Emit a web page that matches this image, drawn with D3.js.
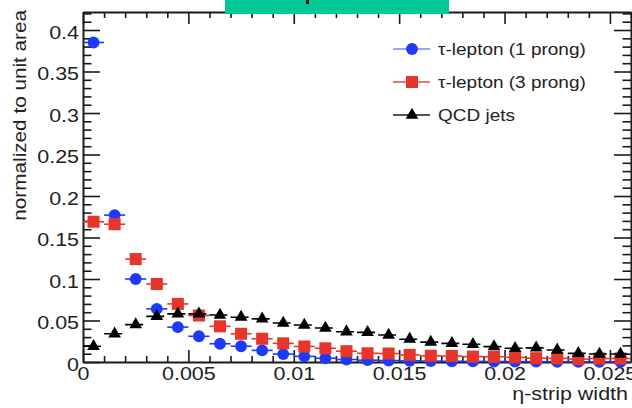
<!DOCTYPE html>
<html><head><meta charset="utf-8">
<script src="https://cdn.jsdelivr.net/npm/d3@7"></script>
<style>
body{margin:0;background:#fff}
svg{display:block}
text{font-family:"Liberation Sans",Arial,Helvetica,sans-serif;fill:#222}
</style>
</head><body>
<svg id="c" width="632" height="408"></svg>
<script>
// ---- data ----
const binCenters = [0.0005,0.0015,0.0025,0.0035,0.0045,0.0055,0.0065,0.0075,0.0085,0.0095,
                    0.0105,0.0115,0.0125,0.0135,0.0145,0.0155,0.0165,0.0175,0.0185,0.0195,
                    0.0205,0.0215,0.0225,0.0235,0.0245,0.0255];
const binHalfWidth = 0.0005;
const tau1prong = [0.385,0.177,0.100,0.064,0.042,0.031,0.022,0.019,0.014,0.0095,
                   0.0068,0.0045,0.003,0.0022,0.0018,0.0014,0.0011,0.0009,0.0007,0.0006,
                   0.0005,0.0004,0.0003,0.0003,0.0002,0.0002];
const tau3prong = [0.169,0.166,0.124,0.094,0.070,0.056,0.043,0.034,0.028,0.0225,
                   0.0187,0.0165,0.013,0.0105,0.0102,0.0085,0.0075,0.0072,0.0065,0.0063,
                   0.0056,0.0046,0.0044,0.0035,0.0042,0.0042];
const qcdJets   = [0.019,0.034,0.045,0.055,0.058,0.058,0.0566,0.054,0.052,0.047,
                   0.0446,0.041,0.0365,0.0357,0.0325,0.0275,0.024,0.0225,0.0213,0.0185,
                   0.0165,0.017,0.0145,0.0104,0.0096,0.0096];
const seriesNames = ["τ-lepton (1 prong)","τ-lepton (3 prong)","QCD jets"];
const xTicks = [0,0.005,0.01,0.015,0.02,0.025];
const xTickLabels = ["0","0.005","0.01","0.015","0.02","0.025"];
const xMinorTicks = [0.001,0.002,0.003,0.004,0.006,0.007,0.008,0.009,0.011,0.012,0.013,0.014,
                     0.016,0.017,0.018,0.019,0.021,0.022,0.023,0.024,0.026];
const yTicks = [0,0.05,0.1,0.15,0.2,0.25,0.3,0.35,0.4];
const yTickLabels = ["0","0.05","0.1","0.15","0.2","0.25","0.3","0.35","0.4"];
const yMinorTicks = [0.01,0.02,0.03,0.04,0.06,0.07,0.08,0.09,0.11,0.12,0.13,0.14,0.16,0.17,0.18,0.19,
                     0.21,0.22,0.23,0.24,0.26,0.27,0.28,0.29,0.31,0.32,0.33,0.34,0.36,0.37,0.38,0.39,0.41,0.42];
const xTitle = "η-strip width";
const yTitle = "normalized to unit area";

// ---- layout ----
const svg = d3.select("#c");
const L = 83, R = 631, T = 12, B = 362;
const x = d3.scaleLinear().domain([0, 0.026]).range([L, R]);
const y = d3.scaleLinear().domain([0, 0.4217]).range([B, T]);
const blue = "#1c3af8", red = "#e8352b", black = "#000";
const STR = 1.13;

function stretch(sel, k){
  sel.each(function(){
    const w = this.getComputedTextLength();
    this.setAttribute("textLength", w * k);
    this.setAttribute("lengthAdjust", "spacingAndGlyphs");
  });
}

const axisColor = "#1a1a1a";
function styleAxis(g, showDomain){
  g.selectAll(".tick line").attr("stroke", axisColor).attr("stroke-width", 1.6);
  g.select(".domain").attr("stroke", showDomain ? axisColor : "none").attr("stroke-width", 2);
}

// bottom axis
const gB = svg.append("g").attr("transform", `translate(0,${B})`)
  .call(d3.axisBottom(x).tickValues(xTicks).tickSize(-12).tickSizeOuter(0)
        .tickFormat((d,i)=>xTickLabels[i]));
styleAxis(gB, true);
gB.selectAll(".tick text").attr("y", 18).attr("dy", 0).attr("font-size", 19)
  .attr("fill", "#2a2a2a").style("font-family", '"Liberation Sans",Arial,sans-serif');
stretch(gB.selectAll(".tick text"), STR);
const gBm = svg.append("g").attr("transform", `translate(0,${B})`)
  .call(d3.axisBottom(x).tickValues(xMinorTicks).tickSize(-6).tickSizeOuter(0).tickFormat(""));
styleAxis(gBm, false);

// top axis
const gT = svg.append("g").attr("transform", `translate(0,${T})`)
  .call(d3.axisTop(x).tickValues(xTicks).tickSize(-12).tickSizeOuter(0).tickFormat(""));
styleAxis(gT, true);
const gTm = svg.append("g").attr("transform", `translate(0,${T})`)
  .call(d3.axisTop(x).tickValues(xMinorTicks).tickSize(-6).tickSizeOuter(0).tickFormat(""));
styleAxis(gTm, false);

// left axis
const gL = svg.append("g").attr("transform", `translate(${L},0)`)
  .call(d3.axisLeft(y).tickValues(yTicks).tickSize(-17).tickSizeOuter(0)
        .tickFormat((d,i)=>yTickLabels[i]));
styleAxis(gL, true);
gL.selectAll(".tick text").attr("x", -4).attr("dy", 0).attr("y", 8).attr("font-size", 19)
  .attr("text-anchor", "end").attr("fill", "#2a2a2a")
  .style("font-family", '"Liberation Sans",Arial,sans-serif');
stretch(gL.selectAll(".tick text"), STR);
const gLm = svg.append("g").attr("transform", `translate(${L},0)`)
  .call(d3.axisLeft(y).tickValues(yMinorTicks).tickSize(-8.5).tickSizeOuter(0).tickFormat(""));
styleAxis(gLm, false);

// right axis
const gR = svg.append("g").attr("transform", `translate(${R},0)`)
  .call(d3.axisRight(y).tickValues(yTicks).tickSize(-17).tickSizeOuter(0).tickFormat(""));
styleAxis(gR, true);
const gRm = svg.append("g").attr("transform", `translate(${R},0)`)
  .call(d3.axisRight(y).tickValues(yMinorTicks).tickSize(-8.5).tickSizeOuter(0).tickFormat(""));
styleAxis(gRm, false);

// axis titles
const xt = svg.append("text").attr("x", 628).attr("y", 400).attr("text-anchor", "end")
  .attr("font-size", 19).attr("fill", "#2a2a2a").text(xTitle);
stretch(xt, STR);
const yt = svg.append("text").attr("transform", "translate(26,10) rotate(-90)")
  .attr("text-anchor", "end").attr("font-size", 19).attr("fill", "#2a2a2a").text(yTitle);
stretch(yt, 1.09);

// ---- series ----
function drawSeries(values, color, dashed, symbol, size){
  const g = svg.append("g");
  g.selectAll("line.err").data(values).join("line")
    .attr("x1", (d,i)=>x(binCenters[i]-binHalfWidth))
    .attr("x2", (d,i)=>x(binCenters[i]+binHalfWidth))
    .attr("y1", d=>y(d)).attr("y2", d=>y(d))
    .attr("stroke", color).attr("stroke-width", 1.6)
    .attr("stroke-dasharray", dashed ? "7,4" : null);
  g.selectAll("path.m").data(values).join("path")
    .attr("d", d3.symbol().type(symbol).size(size))
    .attr("transform", (d,i)=>`translate(${x(binCenters[i])},${y(d)})`)
    .attr("fill", color);
}
drawSeries(tau1prong, blue, false, d3.symbolCircle, 110);
drawSeries(tau3prong, red, false, d3.symbolSquare, 145);
drawSeries(qcdJets, black, true, d3.symbolTriangle, 70);

// ---- legend ----
const legend = [
  {name: seriesNames[0], color: blue, sym: d3.symbolCircle, size: 110},
  {name: seriesNames[1], color: red, sym: d3.symbolSquare, size: 145},
  {name: seriesNames[2], color: black, sym: d3.symbolTriangle, size: 70}
];
const rowY = [49, 82, 115];
legend.forEach((e,i)=>{
  const g = svg.append("g").attr("transform", `translate(0,${rowY[i]})`);
  g.append("line").attr("x1", 393).attr("x2", 430).attr("y1", 0).attr("y2", 0)
    .attr("stroke", e.color).attr("stroke-width", 1.6).attr("opacity", i===0?0.6:0.9);
  g.append("path").attr("d", d3.symbol().type(e.sym).size(e.size)())
    .attr("transform", "translate(412,0)").attr("fill", e.color);
  const t = g.append("text").attr("x", 438).attr("y", 6).attr("font-size", 16.5)
    .attr("fill", "#2a2a2a").text(e.name);
  stretch(t, 1.15);
});

// ---- title cover (green box) ----
svg.append("rect").attr("x", 225).attr("y", 0).attr("width", 224).attr("height", 14).attr("fill", "#00c896");
svg.append("rect").attr("x", 306).attr("y", 0).attr("width", 3).attr("height", 4).attr("fill", "#111");
</script>
</body></html>
